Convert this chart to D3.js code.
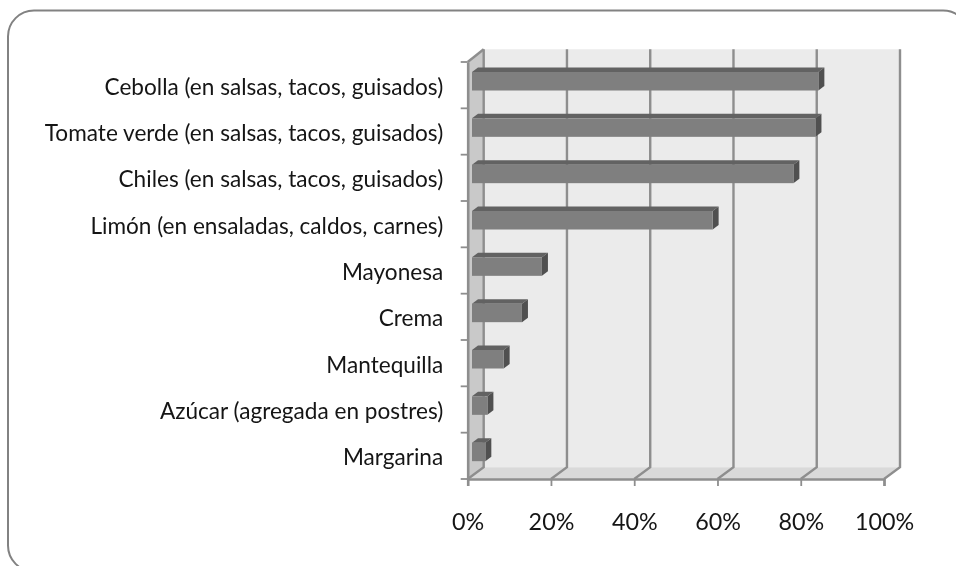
<!DOCTYPE html>
<html><head><meta charset="utf-8">
<script src="https://cdn.jsdelivr.net/npm/d3@7/dist/d3.min.js"></script>
<style>
html,body{margin:0;padding:0;background:#fff;overflow:hidden}
svg{display:block}
text{font-family:Lato,"Open Sans",sans-serif;fill:#151515}
</style></head><body><div id="c"></div>
<script>
const categories = ["Cebolla (en salsas, tacos, guisados)","Tomate verde (en salsas, tacos, guisados)","Chiles (en salsas, tacos, guisados)","Limón (en ensaladas, caldos, carnes)","Mayonesa","Crema","Mantequilla","Azúcar (agregada en postres)","Margarina"];
const values = [83.2,82.5,77.2,57.8,16.8,12,7.6,3.7,3.2];
const xTicks = [0,20,40,60,80,100];

const W=956,H=566;
const svg=d3.select("#c").append("svg").attr("width",W).attr("height",H);
const g=svg.append("g").style("filter","blur(0.35px)");

// frame
g.append("rect").attr("x",8).attr("y",10.5).attr("width",961).attr("height",561).attr("rx",26)
 .attr("fill","#fff").attr("stroke","#828282").attr("stroke-width",2);

const x=d3.scaleLinear().domain([0,100]).range([467.7,884]);
const y=d3.scaleBand().domain(categories).range([62,479]);
const depth={dx:16,dy:-11.8};
const x0=x(0),x1=x(100),yT=y.range()[0],yB=y.range()[1];
const poly=pts=>pts.map(p=>p.join(",")).join(" ");

// walls
g.append("polygon").attr("points",poly([[x0+depth.dx,yT-12.7],[x1+depth.dx,yT-12.7],[x1+depth.dx,yB+depth.dy],[x0+depth.dx,yB+depth.dy]])).attr("fill","#ebebeb");
g.append("polygon").attr("points",poly([[x0,yT],[x0+depth.dx,yT-12.7],[x0+depth.dx,yB+depth.dy],[x0,yB]])).attr("fill","#c9c9c9");
g.append("polygon").attr("points",poly([[x0,yB],[x1,yB],[x1+depth.dx,yB+depth.dy],[x0+depth.dx,yB+depth.dy]])).attr("fill","#d9d9d9");

const lineCol="#8e8e8e";
// gridlines on back wall + floor diagonals
g.append("g").selectAll("path").data(xTicks).join("path")
 .attr("d",t=>`M${x(t)+depth.dx},${yT-12.7}V${yB+depth.dy}L${x(t)},${yB}`)
 .attr("fill","none").attr("stroke",lineCol).attr("stroke-width",2.4);
// left wall top diagonal
g.append("path").attr("d",`M${x0},${yT}L${x0+depth.dx},${yT-12.7}`).attr("fill","none").attr("stroke",lineCol).attr("stroke-width",2.4);

// category ticks
g.append("g").selectAll("line").data(d3.range(categories.length+1)).join("line")
 .attr("x1",x0-7).attr("x2",x0)
 .attr("y1",i=>yT+i*y.step()).attr("y2",i=>yT+i*y.step())
 .attr("stroke",lineCol).attr("stroke-width",1.8);

// axes
const ax=g.append("g").attr("transform",`translate(0,${yB})`)
 .call(d3.axisBottom(x).tickValues(xTicks).tickFormat(d=>d+"%").tickSize(7).tickPadding(27));
ax.selectAll("text").style("font-size","23.3px");
ax.selectAll("line").attr("stroke",lineCol).attr("stroke-width",1.8);
ax.select(".domain").attr("stroke",lineCol).attr("stroke-width",2.6);

const ay=g.append("g").attr("transform",`translate(${x0},0)`)
 .call(d3.axisLeft(y).tickSize(0).tickPadding(24.5));
ay.selectAll("text").style("font-size","22.6px").attr("dy","0.42em");
ay.select(".domain").attr("stroke",lineCol).attr("stroke-width",2.6);

// bars
const barGap=4.3, barInset=10, barH=18.5, bd={dx:6,dy:-4.5};
const bars=g.append("g").selectAll("g").data(categories.map((c,i)=>({c,v:values[i]}))).join("g");
const L=d=>x(0)+barGap, R=d=>x(d.v)+barGap, T=d=>y(d.c)+barInset;
bars.append("polygon").attr("fill","#626262")
 .attr("points",d=>poly([[L(d),T(d)],[L(d)+bd.dx,T(d)+bd.dy],[R(d)+bd.dx,T(d)+bd.dy],[R(d),T(d)]]));
bars.append("polygon").attr("fill","#505050")
 .attr("points",d=>poly([[R(d),T(d)],[R(d)+bd.dx,T(d)+bd.dy],[R(d)+bd.dx,T(d)+barH+bd.dy],[R(d),T(d)+barH]]));
bars.append("rect").attr("fill","#7f7f7f")
 .attr("x",L).attr("y",T).attr("width",d=>R(d)-L(d)).attr("height",barH);
</script></body></html>
